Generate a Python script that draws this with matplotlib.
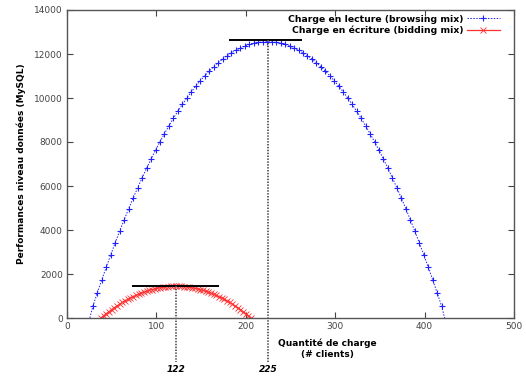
import matplotlib
matplotlib.use('Agg')
import matplotlib.pyplot as plt

# browsing mix (lecture)
lect_x = [24, 29, 34, 39, 44, 49, 54, 59, 64, 69, 74, 79, 84, 89, 94, 99, 104, 109, 114, 119,
          124, 129, 134, 139, 144, 149, 154, 159, 164, 169, 174, 179, 184, 189, 194, 199, 204, 209, 214, 219,
          224, 229, 234, 239, 244, 249, 254, 259, 264, 269, 274, 279, 284, 289, 294, 299, 304, 309, 314, 319,
          324, 329, 334, 339, 344, 349, 354, 359, 364, 369, 374, 379, 384, 389, 394, 399, 404, 409, 414, 419, 424]
lect_y = [-250, 544, 1152, 1745, 2322, 2882, 3428, 3957, 4470, 4968, 5450, 5916, 6366, 6801, 7220, 7622, 8010, 8381, 8736, 9076,
          9400, 9708, 10000, 10277, 10538, 10782, 11012, 11225, 11422, 11604, 11770, 11920, 12054, 12173, 12276, 12362, 12434, 12489, 12528, 12552,
          12560, 12552, 12528, 12489, 12434, 12362, 12276, 12173, 12054, 11920, 11770, 11604, 11422, 11225, 11012, 10782, 10538, 10277, 10000, 9708,
          9400, 9076, 8736, 8381, 8010, 7622, 7220, 6801, 6366, 5916, 5450, 4968, 4470, 3957, 3428, 2882, 2322, 1745, 1152, 544, -250]

# bidding mix (ecriture)
ecr_x = [38, 41, 44, 47, 50, 53, 56, 59, 62, 65, 68, 71, 74, 77, 80, 83, 86, 89, 92, 95, 98, 101, 104, 107, 110, 113, 116, 119,
         122, 125, 128, 131, 134, 137, 140, 143, 146, 149, 152, 155, 158, 161, 164, 167, 170, 173, 176, 179, 182, 185, 188, 191,
         194, 197, 200, 203, 206]
ecr_y = [1, 102, 199, 292, 382, 469, 551, 630, 706, 777, 845, 909, 970, 1027, 1080, 1130, 1176, 1218, 1256, 1291, 1322, 1350,
         1374, 1394, 1411, 1423, 1433, 1438,
         1440, 1438, 1433, 1423, 1411, 1394, 1374, 1350, 1322, 1291, 1256, 1218, 1176, 1130, 1080, 1027, 970, 909, 845, 777,
         706, 630, 551, 469, 382, 292, 199, 102, 1]

# maxima
pic_lect = (225, 12620, 181, 263)
pic_ecr = (122, 1454, 73, 170)

plt.rcParams['font.family'] = 'DejaVu Sans'
fig = plt.figure(figsize=(5.26, 3.78), dpi=100)
ax = fig.add_axes([67/526, 60/378, 447/526, 308/378])

ax.plot(lect_x, lect_y, color='#2020ff', linestyle=(0, (1.5, 1.5)), lw=0.7,
        marker='+', markersize=5, markeredgewidth=0.8, label='Charge en lecture (browsing mix)')
ax.plot(ecr_x, ecr_y, color='#ff3030', linestyle='-', lw=0.9,
        marker='x', markersize=4, markeredgewidth=0.6, label='Charge en écriture (bidding mix)')

# horizontal lines at the maxima
for xv, yv, x0, x1 in (pic_lect, pic_ecr):
    ax.plot([x0, x1], [yv, yv], color='black', lw=1.4, solid_capstyle='butt')
    ax.plot([xv, xv], [yv, -2000], color='#555555', lw=1.3, linestyle=(0, (0.8, 0.8)), clip_on=False)
    ax.text(xv, -2360, str(xv), ha='center', va='center', fontsize=6.5,
            fontstyle='italic', fontweight='bold')

ax.set_xlim(0, 500)
ax.set_ylim(0, 14000)
ax.set_xticks(range(0, 501, 100))
ax.set_yticks(range(0, 14001, 2000))
ax.tick_params(direction='in', length=4, width=0.8, top=True, right=True,
               labelsize=6.5, labelcolor='#444444', color='#444444', pad=3)
for s in ax.spines.values():
    s.set_color('#555555')
    s.set_linewidth(1.0)

ax.set_ylabel('Performances niveau données (MySQL)', fontsize=6.5, fontweight='bold', labelpad=6)
fig.text(327/526, 1 - 349/378, 'Quantité de charge\n(# clients)', ha='center', va='center',
         fontsize=6.5, fontweight='bold', linespacing=1.3)

leg = ax.legend(loc='upper right', bbox_to_anchor=(0.976, 0.997), markerfirst=False, frameon=False,
                handlelength=3.5, handletextpad=0.4, labelspacing=0.25,
                borderaxespad=0.0, prop={'weight': 'bold', 'size': 6.7})

fig.savefig('out.png', dpi=100)
